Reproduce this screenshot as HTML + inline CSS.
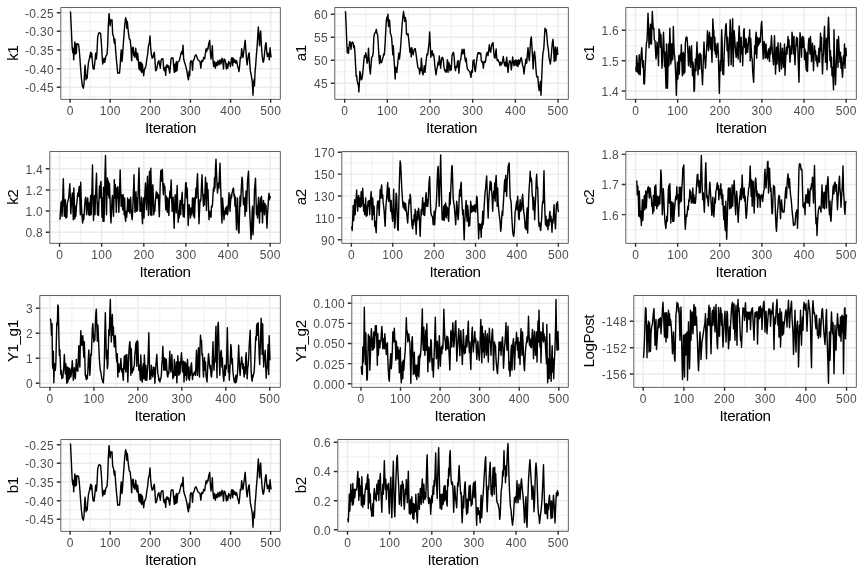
<!DOCTYPE html>
<html lang="en"><head><meta charset="utf-8"><title>Trace plots</title>
<style>html,body{margin:0;padding:0;background:#fff}body{width:864px;height:576px;overflow:hidden}svg{display:block}</style>
</head><body>
<svg width="864" height="576" viewBox="0 0 864 576" font-family="&quot;Liberation Sans&quot;, Arial, Helvetica, sans-serif">
<rect width="864" height="576" fill="#fff"/>
<g>
<clipPath id="c0"><rect x="60.45" y="7.33" width="220.22" height="91.77"/></clipPath>
<g clip-path="url(#c0)">
<path d="M60.45 22H280.67M60.45 40.63H280.67M60.45 59.33H280.67M60.45 78.03H280.67M60.45 96.63H280.67M90.12 7.33V99.1M130.24 7.33V99.1M170.36 7.33V99.1M210.48 7.33V99.1M250.6 7.33V99.1" stroke="#ebebeb" stroke-width="0.71" fill="none"/>
<path d="M60.45 12.67H280.67M60.45 31.3H280.67M60.45 50H280.67M60.45 68.7H280.67M60.45 87.3H280.67M70.06 7.33V99.1M110.18 7.33V99.1M150.3 7.33V99.1M190.42 7.33V99.1M230.54 7.33V99.1M270.66 7.33V99.1" stroke="#ebebeb" stroke-width="1.42" fill="none"/>
<path d="M70.5,11.5 71.33,29 72.17,47.67 72.83,52.67 73.33,48.17 73.67,59.83 74.17,52.33 74.83,42 75.33,54 75.83,44 76.33,53.17 76.83,43.67 77.67,44 78.5,44.33 79.17,49 79.83,57.33 80.67,69 81.5,79 82.33,85.67 83.33,88.17 84,84 84.5,74 85,65.33 85.5,70.67 86,79.83 86.67,75.67 87.17,78.17 87.67,70.67 88.5,62.33 89.33,59 90,55.67 90.67,52.33 91.17,57.33 91.67,53.17 92.33,60.67 93,68.17 94,69.33 94.67,64 95.33,57.33 95.67,53.17 96.33,59 97,52.33 97.67,37.33 98.67,33.17 99.67,32.67 100.67,34 101.33,42.33 102,54 102.67,64 103.5,61.5 104,58.17 104.67,62.33 105.33,59 106,55.67 107,54.83 107.67,45.67 108.33,25.67 109,13.67 109.67,20.67 110.17,25.67 110.67,19.83 111.33,20.67 112,19.83 112.67,34 113.5,36.5 114.33,43.17 114.83,39 115.67,50.67 116.33,59 117,65.67 117.67,73.17 118.67,72.67 119.5,73.17 120.17,65.67 120.83,54 121.33,49.83 122,61.5 122.67,54 123.33,44 124,34.83 124.67,25.67 125.67,17.67 126.33,20.67 126.83,28.17 127.33,21.5 128,29 128.67,34.83 129.33,39 130.17,39.83 131,47.33 131.67,60.67 132.33,48.17 133.17,47.33 133.83,55.67 134.33,52.33 135,57.33 135.67,48.17 136.33,54 137,59.83 137.67,53.17 138.33,60.67 139,69 139.67,62.33 140.33,70.67 141,62.33 141.67,72.33 142.33,64 143,69.83 143.67,75.67 144.33,69.83 145.17,68.17 146,65.67 146.83,59 147.67,54 148.5,45.67 149.33,43.17 150,36 150.67,47.33 151.33,54 152.17,58.17 153,57.33 153.67,54 154.33,52.33 155,60.67 155.67,70.67 156.5,69.83 157.33,65.67 158,62.33 158.83,60.67 159.67,64.83 160.33,68.17 161,60.67 162,58.67 163,59 163.67,69 164.33,70.67 165,67.33 165.67,75.33 166.33,65.67 167,64.83 167.67,67.33 168.33,65.67 169,69 169.67,73.17 170.33,67.33 171,59 172,57.67 173,58.17 173.67,65.67 174.33,72.33 175,64 175.67,71.5 176.33,61.5 177,70.67 177.67,62.33 178.5,61.5 179.33,60.67 180.17,57.33 181,53.17 181.67,51.5 182.33,54 183,45.33 183.67,59 184.33,61.5 185.17,64 186,67.33 186.83,70.67 187.67,76.5 188.5,79.83 189,71.5 189.67,75.67 190.33,62.33 191,60.67 191.83,61.5 192.5,70.33 193.17,60.67 194,59.83 195,55.67 196,54.83 197,57.33 198,59.83 199,60.67 200,61.5 200.83,68.17 201.67,60.67 202.67,61.5 203.67,57.33 204.67,59 205.33,54 206,49 206.67,51.5 207.33,48.17 208,49 208.67,44 209.67,40.33 210.33,52.33 211,59 211.67,54 212.33,45.67 213,60.67 213.67,66.5 214.5,61.5 215.33,68.17 216.33,62.33 217.17,65.67 218,60.67 219,64.83 220,59.83 221,64 222,58.17 222.83,61.5 223.5,69 224.17,59 225,59.83 225.67,62.33 226.33,69 227,64 227.83,68.17 228.67,61.5 229.67,63.17 230.5,66.5 231.33,59 232,57.67 232.67,65.67 233.33,58.17 234.33,62.33 235,59.83 235.83,63.17 236.67,60.67 237.5,65.67 238.33,68.17 239,71.5 239.67,65.67 240.33,57.33 241,58.17 241.67,48.67 242.33,54 243,57.33 243.67,52.33 244.33,47.33 245.17,40.33 245.83,49 246.5,59 247.17,64.83 247.83,59 248.5,54.83 249.17,52.83 249.67,62.33 250.33,70.67 251,74 251.67,77.33 252.33,82.33 253,95.33 253.5,84 254,79.83 254.5,85.67 255,72.33 255.67,65.67 256.33,55.67 257,48.17 257.67,37.33 258.33,27 259,37.33 259.5,45.67 260,35.67 260.67,31 261.33,44 262,54 262.67,59.83 263.33,62.33 264,59 264.67,52.33 265.33,45.67 266,42.67 266.67,50.67 267.33,56.5 268,53.17 268.67,54 269.33,59.83 270,47.67 270.67,54 271.17,57.33" stroke="#000" stroke-width="1.42" fill="none" stroke-linejoin="round" stroke-linecap="butt"/>
</g>
<rect x="60.8" y="7.53" width="219.57" height="91.82" fill="none" stroke="#444" stroke-width="0.85" stroke-linejoin="round"/>
<path d="M56.78 12.67H60.45M56.78 31.3H60.45M56.78 50H60.45M56.78 68.7H60.45M56.78 87.3H60.45M70.06 99.1V102.77M110.18 99.1V102.77M150.3 99.1V102.77M190.42 99.1V102.77M230.54 99.1V102.77M270.66 99.1V102.77" stroke="#333" stroke-width="1.42" fill="none"/>
<g font-size="12" letter-spacing="0.33" fill="#4d4d4d">
<text x="54.05" y="17.57" text-anchor="end">-0.25</text>
<text x="54.05" y="36.2" text-anchor="end">-0.30</text>
<text x="54.05" y="54.9" text-anchor="end">-0.35</text>
<text x="54.05" y="73.6" text-anchor="end">-0.40</text>
<text x="54.05" y="92.2" text-anchor="end">-0.45</text>
<text x="70.16" y="114.8" text-anchor="middle">0</text>
<text x="110.28" y="114.8" text-anchor="middle">100</text>
<text x="150.4" y="114.8" text-anchor="middle">200</text>
<text x="190.52" y="114.8" text-anchor="middle">300</text>
<text x="230.64" y="114.8" text-anchor="middle">400</text>
<text x="270.76" y="114.8" text-anchor="middle">500</text>
</g>
<g font-size="15.2" letter-spacing="-0.44" fill="#000">
<text x="170.56" y="132.6" text-anchor="middle">Iteration</text>
<text transform="translate(17.9 53.21) rotate(-90)" text-anchor="middle">k1</text>
</g>
</g>
<g>
<clipPath id="c1"><rect x="334.45" y="7.33" width="234.22" height="91.77"/></clipPath>
<g clip-path="url(#c1)">
<path d="M334.45 25.8H568.67M334.45 48.8H568.67M334.45 71.8H568.67M334.45 94.8H568.67M366.01 7.33V99.1M408.68 7.33V99.1M451.35 7.33V99.1M494.02 7.33V99.1M536.69 7.33V99.1" stroke="#ebebeb" stroke-width="0.71" fill="none"/>
<path d="M334.45 14.3H568.67M334.45 37.3H568.67M334.45 60.3H568.67M334.45 83.3H568.67M344.67 7.33V99.1M387.34 7.33V99.1M430.01 7.33V99.1M472.68 7.33V99.1M515.35 7.33V99.1M558.02 7.33V99.1" stroke="#ebebeb" stroke-width="1.42" fill="none"/>
<path d="M345.5,11.17 346.17,25.67 346.83,44 347.33,52.67 348,47.67 348.5,53.17 349.17,45.67 349.83,41.5 350.5,44 351,49.33 351.67,43.17 352.5,42 353.17,43.17 353.67,47.67 354.33,45.67 355,54 355.67,67.33 356.17,76.5 356.67,75.67 357.17,80.67 357.83,84 358.33,83.67 358.83,92 359.33,84 359.83,71.5 360.5,73.17 361.17,79.83 361.83,79 362.5,75.67 363.17,69 363.83,60.67 364.5,55.67 365.17,57.33 365.83,52.83 366.5,57.33 367.17,63.17 367.83,60.67 368.5,48.17 369,57.33 369.67,69 370.33,74 371,65.67 371.67,57.33 372.5,56.5 373.17,53.17 373.83,37.33 374.67,33.17 375.5,32.33 376.33,29.33 377,33.67 377.67,34.83 378.33,45.67 379,57.33 379.5,63.67 380.17,55.67 380.83,62.33 381.5,62.67 382.17,60.67 383,57.33 383.67,54 384.33,54.83 385,45.67 385.67,32.33 386.33,20.67 387,17 387.5,20.67 388,14.33 388.5,26.5 389,19.83 389.67,20.67 390.33,33.17 391,34.83 391.67,38.17 392.33,47.33 392.83,54.83 393.33,45.67 394,59 394.67,69 395.17,79 395.67,67.33 396.33,70.67 396.83,72.33 397.5,65.67 398.17,59 398.83,53.17 399.5,59 400.17,52.33 400.83,44 401.5,34 402.17,24 402.83,17.33 403.5,11.5 404.17,15.67 404.67,21.5 405.33,17.33 406,20.67 406.5,34 407.17,34.83 408,33.67 408.67,39 409.33,45.67 410,52.33 410.67,48.17 411.17,57 411.83,47.67 412.5,52.33 413.17,54.83 413.83,50.67 414.5,49 415.17,48.67 415.83,52.33 416.5,57.33 417.17,62.33 417.83,67.33 418.5,68.17 419.17,69 419.67,74 420.17,68.17 420.83,70.67 421.33,58.17 421.83,64 422.33,72.33 423,74.83 423.67,70.67 424.33,65.67 425,72.33 425.67,65.67 426.33,59 427,54 427.67,54.83 428.33,49 429,44 429.67,32 430.33,45.67 430.83,57.33 431.5,52.33 432.17,50.67 432.83,55.67 433.5,54 434.17,57.33 434.83,65.67 435.5,70.67 436,74.83 436.67,69.83 437.33,67.33 438,62.33 438.67,64.83 439.33,56 440,62.33 440.67,68.17 441.33,60.67 442,57.67 442.67,57.33 443.33,60.67 444,67.33 444.67,70.67 445.33,69.83 446,72.33 446.67,70.67 447.33,59.83 448,72.33 448.67,62.33 449.33,64 450,70.67 450.67,65.67 451.33,69.83 452,55.67 452.83,53.17 453.5,52.33 454.17,57.33 454.83,67.33 455.5,70.67 456.17,66.5 456.83,67.33 457.5,61.5 458.17,60.67 458.83,73.17 459.5,65.67 460.17,60.67 460.83,59 461.5,53.17 462.17,49.33 462.83,54 463.5,49.83 464.17,49.33 464.83,57.33 465.5,61.5 466.17,58.17 466.83,65.67 467.5,69 468.17,69.83 468.83,70.67 469.67,71.5 470.33,74 471,77.33 471.67,70.67 472.33,72.33 473,60.67 474,59.83 474,61.5 474.67,69 475.33,71.5 476,65.67 476.67,60.67 477.33,55.67 478,52.67 478.67,53.67 479.33,52.67 480,54 480.67,53.17 481.33,60.67 482,62.33 482.67,61.5 483.33,68.17 484,62.33 484.67,61.5 485.33,62.33 486,57.33 486.67,53.17 487.33,52.33 488,55.67 488.67,50.67 489.33,44.83 490,50.67 490.67,52.33 491.33,47.33 492,44 493,42.67 493.67,50.67 494.33,57.33 495,58.17 495.67,52.33 496.17,49 496.67,57.33 497.33,60.67 498,59.83 498.67,61.5 499.33,62.33 500,65.67 500.67,62.33 501.33,64.83 502,63.17 502.67,60.67 503.33,56.5 504,62.33 504.67,65.67 505.33,62.33 506,66.5 506.67,57.33 507.33,64 508,72.33 508.67,65.67 509.33,61.5 510,60.67 510.67,62.33 511.33,69.83 512,64 512.67,57 513.33,62.33 514,65.67 514.67,60.67 515.33,64.83 516,59.83 516.67,65.67 517.33,60.67 518,66.5 518.67,59.83 519.33,64 520,61.5 520.67,59 521.33,57.67 522,61.5 522.67,65.67 523.33,67.33 524,74 524.67,67.33 525.33,64 526,59 526.67,63.17 527.33,55.67 528,47.67 528.67,55.67 529.33,60.67 530,50.67 530.67,39.83 531.33,37 532,47.33 532.67,59 533.17,69 533.83,55.67 534.5,51.5 535.17,57.33 535.83,67.33 536.5,75.67 537.17,77.33 537.83,76.5 538.5,85.67 539.17,90.67 539.83,87.33 540.33,81.5 541,95.33 541.5,82.33 542,70.67 542.5,59 543,52.33 543.5,50.67 544,45.67 544.5,35.67 545,28.17 545.67,31.5 546.33,29.83 547,37.33 547.67,45.67 548.33,49 549,57.33 549.67,60.67 550.33,64 551,59 551.67,50.67 552.33,42.67 553,39.33 553.67,49 554.17,61.5 554.67,52.33 555.33,47 555.83,60.67 556.5,52.33 557.17,47.33 557.67,54 558.17,54.83" stroke="#000" stroke-width="1.42" fill="none" stroke-linejoin="round" stroke-linecap="butt"/>
</g>
<rect x="334.8" y="7.53" width="233.57" height="91.82" fill="none" stroke="#444" stroke-width="0.85" stroke-linejoin="round"/>
<path d="M330.78 14.3H334.45M330.78 37.3H334.45M330.78 60.3H334.45M330.78 83.3H334.45M344.67 99.1V102.77M387.34 99.1V102.77M430.01 99.1V102.77M472.68 99.1V102.77M515.35 99.1V102.77M558.02 99.1V102.77" stroke="#333" stroke-width="1.42" fill="none"/>
<g font-size="12" letter-spacing="0.33" fill="#4d4d4d">
<text x="328.05" y="19.2" text-anchor="end">60</text>
<text x="328.05" y="42.2" text-anchor="end">55</text>
<text x="328.05" y="65.2" text-anchor="end">50</text>
<text x="328.05" y="88.2" text-anchor="end">45</text>
<text x="344.77" y="114.8" text-anchor="middle">0</text>
<text x="387.44" y="114.8" text-anchor="middle">100</text>
<text x="430.11" y="114.8" text-anchor="middle">200</text>
<text x="472.78" y="114.8" text-anchor="middle">300</text>
<text x="515.45" y="114.8" text-anchor="middle">400</text>
<text x="558.12" y="114.8" text-anchor="middle">500</text>
</g>
<g font-size="15.2" letter-spacing="-0.44" fill="#000">
<text x="451.56" y="132.6" text-anchor="middle">Iteration</text>
<text transform="translate(305.9 53.21) rotate(-90)" text-anchor="middle">a1</text>
</g>
</g>
<g>
<clipPath id="c2"><rect x="625.45" y="7.33" width="231.22" height="91.77"/></clipPath>
<g clip-path="url(#c2)">
<path d="M625.45 15.12H856.67M625.45 45.48H856.67M625.45 75.88H856.67M656.6 7.33V99.1M698.73 7.33V99.1M740.85 7.33V99.1M782.97 7.33V99.1M825.1 7.33V99.1" stroke="#ebebeb" stroke-width="0.71" fill="none"/>
<path d="M625.45 30.3H856.67M625.45 60.7H856.67M625.45 91H856.67M635.54 7.33V99.1M677.66 7.33V99.1M719.79 7.33V99.1M761.91 7.33V99.1M804.04 7.33V99.1M846.16 7.33V99.1" stroke="#ebebeb" stroke-width="1.42" fill="none"/>
<path d="M635.67,67.33 636.17,71.5 636.67,55.67 637.17,62.33 637.67,72.33 638.17,64 638.67,74 639.17,54.83 639.67,70.67 640.17,74.83 640.67,60.67 641.17,54 641.83,47.67 642.33,60.67 642.83,67.33 643.33,60.67 643.83,83.67 644.5,84 645,70.67 645.5,60.67 646,50.67 646.5,42.33 647,41.5 647.5,29 648,13.17 648.5,24 649,47.67 649.5,29 650,44 650.5,24.33 651,29 651.5,44 652,20.67 652.33,11.5 652.83,22.33 653.33,29 653.83,28.17 654.33,39.83 655,40.67 655.5,50.67 656,59 656.5,54 657,42 657.5,47.33 658,54 658.5,65.67 659,29 659.5,30.67 660,34 660.5,47.33 661,34.83 661.5,54 662,68.17 662.5,59 663,44 663.5,32.33 664,45.67 664.5,66.5 665,52.33 665.5,70.67 666,88.17 666.5,44 667,67.33 667.5,88.17 668,65.67 668.5,44 669,65.67 669.5,44 669.83,28.17 670.33,44 670.83,64 671.33,44 671.83,60.67 672.33,44 672.83,59 673.33,26.5 673.83,44 674.33,54 674.83,57.33 675.33,67.33 675.83,77.33 676.33,95.33 676.83,77.33 677.33,62.33 677.83,79 678.33,70.67 678.83,55.67 679.33,74 679.83,59 680.33,54 680.83,60.67 681.33,44.83 681.83,60.67 682.33,75.67 682.83,54 683.33,52.33 683.83,74 684.33,54 684.83,72.33 685.33,44 685.83,38.17 686.33,37 687,37.33 687.5,44 688,54 688.5,65.67 689,54 689.5,46.5 690,59 690.5,67.33 691,54 691.5,45.67 692,59 692.5,75.67 693,62.33 693.5,69 694,91.5 694.5,89.83 695,67.33 695.5,59 696,70.67 696.5,54 697,42 697.5,59 698,74.83 698.5,60.67 699,54 699.5,69 700,53.17 700.5,60.67 701,54.83 701.5,69 702,74 702.5,84.83 703,70.67 703.5,54 704,42 704.5,54 705,60.67 705.5,68.17 706,59 706.5,50.67 707,42.33 707.5,30.67 708,42.33 708.5,50.67 709,37.33 709.5,32.33 710,42.33 710.5,49 711,37.33 711.5,50.67 712,62.33 712.5,37.33 712.83,19 713.33,29 713.83,30.67 714.33,50.67 714.83,37.33 715.33,54 715.83,44 716.33,57.33 716.83,52.33 717.33,47.33 717.83,43.17 718.33,54 718.83,74 719.33,93.17 719.83,70.67 720.33,60.67 720.83,70.67 721.33,42.33 721.67,29.83 722.17,42.33 722.67,74 723.17,60.67 723.67,74.83 724.17,54 724.67,42.33 725.17,34 725.67,25.67 726.17,23.67 726.67,37.33 727.17,50.67 727.67,37.33 728.17,54 728.67,65.67 729.17,50.67 729.67,37.33 730.17,19.83 730.67,37.33 731.17,64.83 731.67,45.67 732.17,29 732.67,18.67 733.17,66.5 733.67,47.33 734.17,30.67 734.67,37.33 735.17,45.67 735.67,52.33 736.17,57.33 736.67,50.67 737.17,42.33 737.67,54 738.17,59 738.67,37.33 739.17,26 739.67,37.33 740.17,62.33 740.67,45.67 741.17,37.33 741.67,54 742.17,47.33 742.67,65.67 743.17,47.33 743.67,30.67 744.17,28.67 744.67,47.33 745.17,38.17 745.67,54 746.17,39 746.67,52.33 747.17,44 747.67,52.33 748.17,45.67 748.67,37.33 749.17,42.33 749.67,29.83 750.17,60.67 750.67,38.17 751.17,47.33 751.67,57.33 752.17,59 752.67,70.67 753.17,77.33 753.67,82.33 754.17,62.33 754.67,45.67 755.17,54 755.67,37.33 756.17,32.33 756.67,58.17 757.17,47.33 757.67,37.33 758.17,45.67 758.67,39 759.17,44 759.67,38.17 760.17,42.33 760.67,34 761.17,25.67 761.67,21.5 762.17,30.67 762.67,45.67 763.17,59 763.67,47.33 764.17,41.5 764.67,45.67 765.17,58.17 766,44 766.5,57.33 767,52.33 767.5,59 768,54 768.5,49 769,55.67 769.5,61.5 770,47.33 770.5,54 771,44 771.5,35.67 772,45.67 772.5,54 773,59 773.5,64.83 774,50.67 774.5,35.67 775,54 775.5,74 776,60.67 776.5,47.33 777,64 777.5,54 778,42.67 778.5,54 779,65.67 779.5,71.5 780,54 780.5,43.17 781,54 781.5,69 782,59 782.5,48.17 783,59 783.5,67.33 784,55.67 784.5,44 785,75.33 785.5,62.33 786,54 786.5,47.33 787,54 787.5,45.67 788,36.5 788.5,47.33 789,39.83 789.5,54 790,62.33 790.5,54 791,45.67 791.5,54 792,32.33 792.5,37.33 793,45.67 793.5,54 794,36.5 794.5,54 795,64.83 795.5,52.33 796,44 796.5,37.33 797,45.67 797.5,38.17 798,54 798.5,70.67 799,82.33 799.5,54 800,32.67 800.5,37.33 801,45.67 801.5,57.33 802,39 802.5,36.5 803,47.33 803.5,37.33 804,42.33 804.5,59.83 805,49 805.5,54 806,67.33 806.5,70.67 807,52.33 807.5,71.5 808,54 808.5,42.33 809,38.17 809.5,47.33 810,54 810.5,36.5 811,47.33 811.5,61.5 812,52.33 812.5,43.17 813,55.67 813.5,70.67 814,57.33 814.5,45.67 815,54 815.5,50.67 816,60.67 816.5,55.67 817,63.17 817.5,66.5 818,60.67 818.5,54 819,48.17 819.5,62.33 820,47.33 820.5,33.17 821,50.67 821.5,37.33 822,59 822.5,74 823,59 823.5,52.33 824,37.33 824.5,26.5 825,45.67 825.5,62.33 826,45.67 826.5,38.17 827,69.83 827.5,54 828,29 828.5,17.33 829,29 829.5,45.67 830,60.67 830.5,50.67 831,67.33 831.5,57.33 832,75.67 832.5,67.33 833,77.33 833.5,89.83 834,29.83 834.5,54 835,74 835.5,84.83 836,70.67 836.5,57.33 837,39.83 837.5,54 838,67.33 838.5,36.5 839,47.33 839.5,54 840,62.33 840.5,52.33 841,68.17 841.5,57.33 842,70.67 842.5,77.33 843,67.33 843.5,55.67 844,64 844.5,44 845,68.17 845.5,54 846,48.17 846.33,56.5" stroke="#000" stroke-width="1.42" fill="none" stroke-linejoin="round" stroke-linecap="butt"/>
</g>
<rect x="625.8" y="7.53" width="230.57" height="91.82" fill="none" stroke="#444" stroke-width="0.85" stroke-linejoin="round"/>
<path d="M621.78 30.3H625.45M621.78 60.7H625.45M621.78 91H625.45M635.54 99.1V102.77M677.66 99.1V102.77M719.79 99.1V102.77M761.91 99.1V102.77M804.04 99.1V102.77M846.16 99.1V102.77" stroke="#333" stroke-width="1.42" fill="none"/>
<g font-size="12" letter-spacing="0.33" fill="#4d4d4d">
<text x="619.05" y="35.2" text-anchor="end">1.6</text>
<text x="619.05" y="65.6" text-anchor="end">1.5</text>
<text x="619.05" y="95.9" text-anchor="end">1.4</text>
<text x="635.64" y="114.8" text-anchor="middle">0</text>
<text x="677.76" y="114.8" text-anchor="middle">100</text>
<text x="719.89" y="114.8" text-anchor="middle">200</text>
<text x="762.01" y="114.8" text-anchor="middle">300</text>
<text x="804.14" y="114.8" text-anchor="middle">400</text>
<text x="846.26" y="114.8" text-anchor="middle">500</text>
</g>
<g font-size="15.2" letter-spacing="-0.44" fill="#000">
<text x="741.06" y="132.6" text-anchor="middle">Iteration</text>
<text transform="translate(593.9 53.21) rotate(-90)" text-anchor="middle">c1</text>
</g>
</g>
<g>
<clipPath id="c3"><rect x="49.45" y="151.33" width="231.22" height="91.77"/></clipPath>
<g clip-path="url(#c3)">
<path d="M49.45 158.1H280.67M49.45 179.3H280.67M49.45 200.6H280.67M49.45 221.6H280.67M49.45 242.9H280.67M80.6 151.33V243.1M122.73 151.33V243.1M164.85 151.33V243.1M206.97 151.33V243.1M249.1 151.33V243.1" stroke="#ebebeb" stroke-width="0.71" fill="none"/>
<path d="M49.45 168.7H280.67M49.45 190H280.67M49.45 211H280.67M49.45 232.3H280.67M59.54 151.33V243.1M101.66 151.33V243.1M143.79 151.33V243.1M185.91 151.33V243.1M228.04 151.33V243.1M270.16 151.33V243.1" stroke="#ebebeb" stroke-width="1.42" fill="none"/>
<path d="M60,219.67 60.5,211.33 61,203 61.5,201.33 62,216.33 62.5,206.33 63,189.67 63.33,178.83 63.83,198 64.33,216.33 64.83,203 65.33,199.67 65.83,218 66.33,206.33 66.83,217.17 67.33,203 67.83,201.33 68.33,199.67 68.83,196.33 69.33,189.67 69.83,183.83 70.33,198 70.83,213.83 71.33,204.67 71.83,198 72.33,193 72.83,206.33 73.33,219.67 73.83,188 74.33,201.33 74.83,218.83 75.33,206.33 75.83,216.33 76.33,208 76.83,203 77.33,198 77.83,193 78.33,196.33 78.83,189.67 79.33,186.33 79.83,198 80.33,214.67 80.67,182.17 81.17,198 81.67,211.33 82.17,218 82.67,223 83.17,214.67 83.67,219.67 84.17,214.67 84.67,206.33 85.17,199.67 85.67,197.17 86.17,203 86.67,214.67 87.17,203 87.67,198 88.17,206.33 88.67,214.67 89.17,203 89.67,215.5 90.17,203 90.67,195.5 91.17,214.67 91.67,198 92.17,181.33 92.5,165 93,198 93.5,220.5 94,206.33 94.5,195.5 95,214.67 95.5,198 96,184.67 96.5,173.33 97,198 97.5,214.67 98,203 98.5,215.5 99,198 99.5,186.33 100,198 100.5,183.83 101,181.33 101.5,198 102,217.17 102.5,198 103,221.33 103.5,187.17 104,221.33 104.5,206.33 105,173 105.5,155.5 106,181.33 106.5,214.67 107,189.67 107.5,178 108,194.67 108.5,181.33 109,198 109.5,183.83 110,198 110.5,214.67 111,223 111.5,211.33 112,199.67 112.5,195.5 113,206.33 113.5,216.33 114,198 114.33,179.67 114.83,198 115.33,184.67 115.83,198 116.33,212.17 116.83,188 117.33,198 117.83,186.67 118.33,199.67 118.83,212.17 119.33,198 119.83,181.33 120.17,170 120.67,189.67 121.17,206.33 121.67,194.67 122.17,203 122.67,209.67 123.17,194.67 123.67,203 124.17,214.67 124.67,198 125.17,218 125.67,221.33 126.17,211.33 126.67,217.17 127.17,211.33 127.67,198 128.17,206.33 128.67,211.33 129.17,199.67 129.67,213 130.17,203 130.67,197.17 131.17,211.33 131.67,216.33 132.17,219.67 132.67,211.33 133.17,198 133.67,186.33 134,174.67 134.5,198 135,212.17 135.5,198 136,191.67 136.5,211.33 137,198 137.5,210.5 138,198 138.5,181.33 139,168 139.5,189.67 140,211.33 140.5,203 141,211.33 141.5,197.17 142,214.67 142.5,223.83 143,206.33 143.5,198 144,218 144.5,203 145,191.33 145.5,183 146,198 146.5,209.67 147,189.67 147.5,176.33 148,198 148.5,215.5 149,189.67 149.5,171.33 150,198 150.5,214.67 150.83,168.33 151.33,189.67 151.83,215.5 152.33,198 152.83,184.67 153.33,198 153.83,214.67 154.33,206.33 154.83,211.33 155.33,201.33 155.83,196.33 156.33,191.67 156.83,198 157.33,193 157.83,198 158.33,194.67 158.83,206.33 159.33,216.67 159.83,198 160.33,181.33 160.83,170.5 161.33,181.33 161.83,171.33 162.33,169.33 162.83,184.67 163.33,194.67 163.83,183.83 164.33,188 164.83,186.33 165.33,198 165.83,209.67 166.33,196.33 166.83,206.33 167.33,212.17 167.83,198 168.33,206.33 168.83,215.5 169.33,203 169.83,191.33 170.33,198 170.83,188 171.17,180 171.67,198 172.17,211.33 172.67,203 173.17,197.17 173.67,214.67 174.17,228.33 174.67,206.33 175.17,194.67 175.67,199.67 176.17,213 176.67,198 177.17,185.5 177.67,206.33 178.17,222.17 178.67,211.33 179.17,218 179.67,206.33 180.17,200.5 180.67,214.67 181.17,203 181.67,198 182.17,192.17 182.67,206.33 183.17,216.33 183.67,204.67 184.17,217.17 184.67,206.33 185.17,194.67 185.67,183 186.17,182.67 186.67,198 187.17,188 187.67,206.33 188.17,225.5 188.67,214.67 189.17,204.67 190,211.33 190.5,218 191,208 191.5,214.67 192,211.33 192.5,198 193,206.33 193.5,216.33 194,198 194.5,218 195,204.67 195.5,196.33 196,188 196.5,198 197,181.33 197.5,173.83 198,189.67 198.5,206.33 199,223.83 199.5,211.33 200,199.67 200.5,201.33 201,198 201.5,184.67 202,174.67 202.5,189.67 203,198 203.5,206.33 204,194.67 204.5,204.67 205,191.33 205.5,177.17 206,189.67 206.5,210.5 207,183 207.5,198 208,189.67 208.5,206.33 209,219.67 209.5,211.33 210,216.33 210.5,212.17 211,217.17 211.5,206.33 212,207.17 212.5,204.67 213,194.67 213.5,188 214,191.33 214.5,178 215,188 215.5,168 216,159.33 216.5,173 217,183.83 217.5,193 218,186.33 218.5,183 219,188 219.5,173 220,163.33 220.5,181.33 221,198 221.5,214.67 222,223 222.5,198 223,204.67 223.5,211.33 224,219.67 224.5,211.33 225,214.67 225.5,208 226,213.83 226.5,209.67 227,206.33 227.5,214.67 228,211.33 228.5,201.33 229,192.67 229.5,201.33 230,211.33 230.5,203 231,194.67 231.5,198 232,193 232.5,191.33 233,188.83 233.5,188 234,196.33 234.5,194.67 235,206.33 235.5,197.17 236,214.67 236.5,229.67 237,214.67 237.5,198 238,216.33 238.5,231.33 239,233 239.5,214.67 240,196.33 240.5,206.33 241,194.67 241.5,184.67 242,177.17 242.5,181.33 243,194.67 243.5,204.67 244,201.33 244.5,198 245,216.33 245.5,206.33 246,191.33 246.5,211.33 247,198 247.5,181.33 248,176.33 248.5,171.33 249,189.67 249.5,206.33 250,218 250.5,228 251,239.33 251.5,231.33 252,214.67 252.5,206.33 253,234.67 253.5,223 254,211.33 254.5,189.67 255,184.67 255.5,178.33 256,198 256.5,214.67 257,206.33 257.5,218 258,206.33 258.5,197.17 259,211.33 259.5,223 260,206.33 260.5,198 261,211.33 261.5,196.33 262,208 262.5,223 263,209.67 263.5,200.5 264,206.33 264.5,214.67 265,203.83 265.5,211.33 266,205.5 266.5,218 267,228 267.5,214.67 268,208 268.5,198 269,193.33 269.5,199.67 270,196.33 270.33,198" stroke="#000" stroke-width="1.42" fill="none" stroke-linejoin="round" stroke-linecap="butt"/>
</g>
<rect x="49.8" y="151.53" width="230.57" height="91.82" fill="none" stroke="#444" stroke-width="0.85" stroke-linejoin="round"/>
<path d="M45.78 168.7H49.45M45.78 190H49.45M45.78 211H49.45M45.78 232.3H49.45M59.54 243.1V246.77M101.66 243.1V246.77M143.79 243.1V246.77M185.91 243.1V246.77M228.04 243.1V246.77M270.16 243.1V246.77" stroke="#333" stroke-width="1.42" fill="none"/>
<g font-size="12" letter-spacing="0.33" fill="#4d4d4d">
<text x="43.05" y="173.6" text-anchor="end">1.4</text>
<text x="43.05" y="194.9" text-anchor="end">1.2</text>
<text x="43.05" y="215.9" text-anchor="end">1.0</text>
<text x="43.05" y="237.2" text-anchor="end">0.8</text>
<text x="59.64" y="258.8" text-anchor="middle">0</text>
<text x="101.76" y="258.8" text-anchor="middle">100</text>
<text x="143.89" y="258.8" text-anchor="middle">200</text>
<text x="186.01" y="258.8" text-anchor="middle">300</text>
<text x="228.14" y="258.8" text-anchor="middle">400</text>
<text x="270.26" y="258.8" text-anchor="middle">500</text>
</g>
<g font-size="15.2" letter-spacing="-0.44" fill="#000">
<text x="165.06" y="276.6" text-anchor="middle">Iteration</text>
<text transform="translate(17.9 197.22) rotate(-90)" text-anchor="middle">k2</text>
</g>
</g>
<g>
<clipPath id="c4"><rect x="341.45" y="151.33" width="227.22" height="91.77"/></clipPath>
<g clip-path="url(#c4)">
<path d="M341.45 163.12H568.67M341.45 185.05H568.67M341.45 206.95H568.67M341.45 228.85H568.67M372.06 151.33V243.1M413.46 151.33V243.1M454.85 151.33V243.1M496.25 151.33V243.1M537.64 151.33V243.1" stroke="#ebebeb" stroke-width="0.71" fill="none"/>
<path d="M341.45 152.17H568.67M341.45 174.1H568.67M341.45 196H568.67M341.45 217.9H568.67M341.45 239.8H568.67M351.36 151.33V243.1M392.76 151.33V243.1M434.16 151.33V243.1M475.55 151.33V243.1M516.95 151.33V243.1M558.34 151.33V243.1" stroke="#ebebeb" stroke-width="1.42" fill="none"/>
<path d="M351.67,226.33 352.17,230.5 352.67,219.67 353.17,205.5 353.67,220.5 354.17,211.33 354.67,199.67 355.17,214.67 355.67,203 356.17,198 356.67,190 357.17,203 357.67,211.33 358.17,198 358.67,195.5 359.17,206.33 359.67,198 360.17,207.17 360.67,203 361.17,191.67 361.67,206.33 362.17,198 362.67,188.33 363.17,198 363.67,211.33 364.17,204.67 364.67,214.67 365.17,206.33 365.67,198 366.17,216.33 366.67,206.33 367.17,215.5 367.67,206.33 368.17,201.33 368.67,206.33 369.17,200.5 369.67,214.67 370.17,204.67 370.67,198 371.17,191.67 371.67,206.33 372.17,219.67 372.67,198 373.17,206.33 373.67,214.67 374.17,206.33 374.67,226.33 375.17,221.33 375.67,228 376.17,232.67 376.67,218 377.17,206.33 377.67,201.33 378.17,208 378.67,201 379.17,215.5 379.67,203 380.17,189.67 380.67,198 381.17,188 381.67,185 382.17,198 382.67,194.67 383.17,203 383.67,206.33 384.17,211.33 384.67,219.67 385.17,226.33 385.67,211.33 386.17,203 386.67,198 387.17,189.67 387.67,182.5 388.17,198 388.67,201.33 389.17,188 389.67,198 390.17,201.33 390.67,211.33 391.17,200.5 391.67,211.33 392.17,216.33 392.67,221.33 393.17,206.33 393.67,189.33 394.17,214.67 394.67,228 395.17,223 395.67,206.33 396.17,193.33 396.67,196.33 397.17,214.67 397.67,229.67 398.17,230.5 398.67,211.33 399.17,189.67 399.67,173 400.17,161 400.67,164.67 401.17,174.67 401.67,186.33 402.17,194.67 402.67,203 403.17,207.17 403.67,202.17 404.17,208.83 404.67,203 405.17,210.5 405.67,203.83 406.17,209.67 406.67,213 407.17,218 407.67,223 408.17,214.67 408.67,206.33 409.17,199.67 409.67,203 410.17,194.33 410.67,198 411.17,211.33 411.67,221.33 412.17,226.33 412.67,228.83 413.17,219.67 413.67,224.67 414.17,214.67 414.67,221.33 415.17,209.33 415.67,223 416.17,234.33 416.67,221.33 417.17,211.33 417.67,219.67 418.17,211.33 418.67,208.33 419.17,214.67 419.67,226.33 420.17,236.33 420.67,221.33 421.17,209.67 421.67,214.67 422.17,206.33 422.67,197.67 423.17,206.33 423.67,214.67 424.17,203 424.67,215.5 425.17,206.33 425.67,198 426.17,192.67 426.67,206.33 427.17,199.67 427.67,206.33 428.17,201.33 428.67,189.67 429.17,181.33 429.67,176.67 430.17,194.67 430.67,209.67 431.17,214.67 431.67,215.5 432.17,216.33 432.67,218 433.17,224.67 433.67,218 434.17,211.33 434.67,224.67 435.17,214.67 435.67,209.67 436.17,206.33 436.67,196.33 437.17,181.33 437.67,169.67 438.17,166.33 438.67,189.67 439.17,206.33 439.67,188 440.17,173 440.67,155 441.17,181.33 441.67,203 442.17,219.67 442.67,214.67 443.17,219.67 443.67,206.33 444.17,220.5 444.67,204.67 445.17,216.33 445.67,203 446.17,218 446.67,206.33 447.17,214.67 447.67,208 448.17,218 448.67,221.33 449.17,206.33 449.67,192.67 450.17,204.67 450.67,191.33 451.17,181.33 451.67,168 452.17,165.5 452.67,181.33 453.17,198 453.67,203 454.17,204.67 454.67,211.33 455.17,216.33 455.67,224.67 456.17,214.67 456.67,201.33 457.17,206.33 457.67,214.67 458.17,219.67 458.67,213 459.17,198 459.67,189.67 460.17,196.33 460.67,186.33 461.17,182.17 461.67,198 462.17,206.33 462.67,214.67 463.17,209.67 463.67,226.33 464.17,239.67 464.67,223 465.17,214.67 465.67,206.33 466.17,200.5 466.67,214.67 467.17,221.33 467.67,205.5 468.17,211.33 468.67,226.33 469.17,218 469.67,225.5 470.17,214.67 470.67,201.33 471.17,206.33 471.67,212.17 472.17,206.33 472.67,211.33 473.17,206.33 473.67,210.5 474.17,205.5 474.67,211.33 475.17,204.67 475.67,212.17 476.17,206.33 476.67,196.33 477.17,198 477.67,211.33 478.17,224.67 478.67,238.83 478.67,238 479.17,226.33 479.67,223.83 480.17,229.67 480.67,224.67 481.17,237.17 481.67,223 482.17,228 482.67,211.33 483.17,224.67 483.67,218 484.17,206.33 484.67,198 485.17,191.33 485.67,188 486.17,181.33 486.67,176 487.17,191.33 487.67,206.33 488.17,218 488.67,203 489.17,194.67 489.67,188 490.17,181.33 490.67,189.67 491.17,182.17 491.67,191.33 492.17,198 492.67,211.33 493.17,198 493.67,191.33 494.17,198 494.67,183 495.17,201.33 495.67,181.33 496.17,175.5 496.67,189.67 497.17,206.33 497.67,188 498.17,203 498.67,209.67 499.17,214.67 499.67,218 500.17,223 500.67,231.33 501.17,228 501.67,218 502.17,211.33 502.67,215.5 503.17,206.33 503.67,198 504.17,188 504.67,179.67 505.17,191.33 505.67,175.5 506.17,189.67 506.67,196.33 507.17,181.33 507.67,173 508.17,166.33 508.67,164.67 509.17,163 509.67,181.33 510.17,198 510.67,199.67 511.17,203 511.67,214.67 512.17,223 512.67,231.33 513.17,234.67 513.67,236.33 514.17,233 514.67,223 515.17,211.33 515.67,209.67 516.17,204.67 516.67,201.33 517.17,209.67 517.67,196.33 518.17,206.33 518.67,218 519.17,219.67 519.67,206.33 520.17,199.67 520.67,211.33 521.17,203 521.67,209.67 522.17,198 522.67,194.33 523.17,203 523.67,211.33 524.17,214.67 524.67,219.67 525.17,228 525.67,223 526.17,229.67 526.67,214.67 527.17,208 527.67,233 528.17,214.67 528.67,198 529.17,188 529.67,181.33 530.17,171.33 530.67,181.33 531.17,178 531.67,181.33 532.17,194.67 532.67,198 533.17,209.67 533.67,197.17 534.17,204.67 534.67,219.67 535.17,206.33 535.67,198 536.17,181.33 536.67,174.17 537.17,188 537.67,187.17 538.17,203 538.67,221.33 539.17,226.33 539.67,223 540.17,228 540.67,230.5 541.17,224.67 541.67,218 542.17,206.33 542.67,201.33 543.17,203 543.67,181.33 544,170.83 544.5,198 545,214.67 545.5,224.67 546,216.33 546.5,226.33 547,219.67 547.5,221.33 548,229.67 548.5,219.67 549,225.5 549.5,214.67 550,211.33 550.5,221.33 551,216.33 551.5,224.67 552,232.17 552.5,219.67 553,223 553.5,214.67 554,204.67 554.5,214.67 555,223 555.5,228.83 556,214.67 556.5,203.83 557,206.33 557.5,201.67 558,209.67 558.5,212.17" stroke="#000" stroke-width="1.42" fill="none" stroke-linejoin="round" stroke-linecap="butt"/>
</g>
<rect x="341.8" y="151.53" width="226.57" height="91.82" fill="none" stroke="#444" stroke-width="0.85" stroke-linejoin="round"/>
<path d="M337.78 152.17H341.45M337.78 174.1H341.45M337.78 196H341.45M337.78 217.9H341.45M337.78 239.8H341.45M351.36 243.1V246.77M392.76 243.1V246.77M434.16 243.1V246.77M475.55 243.1V246.77M516.95 243.1V246.77M558.34 243.1V246.77" stroke="#333" stroke-width="1.42" fill="none"/>
<g font-size="12" letter-spacing="0.33" fill="#4d4d4d">
<text x="335.05" y="157.07" text-anchor="end">170</text>
<text x="335.05" y="179" text-anchor="end">150</text>
<text x="335.05" y="200.9" text-anchor="end">130</text>
<text x="335.05" y="222.8" text-anchor="end">110</text>
<text x="335.05" y="244.7" text-anchor="end">90</text>
<text x="351.46" y="258.8" text-anchor="middle">0</text>
<text x="392.86" y="258.8" text-anchor="middle">100</text>
<text x="434.26" y="258.8" text-anchor="middle">200</text>
<text x="475.65" y="258.8" text-anchor="middle">300</text>
<text x="517.05" y="258.8" text-anchor="middle">400</text>
<text x="558.44" y="258.8" text-anchor="middle">500</text>
</g>
<g font-size="15.2" letter-spacing="-0.44" fill="#000">
<text x="455.06" y="276.6" text-anchor="middle">Iteration</text>
<text transform="translate(305.9 197.22) rotate(-90)" text-anchor="middle">a2</text>
</g>
</g>
<g>
<clipPath id="c5"><rect x="625.45" y="151.33" width="231.22" height="91.77"/></clipPath>
<g clip-path="url(#c5)">
<path d="M625.45 169.45H856.67M625.45 199.55H856.67M625.45 229.65H856.67M656.6 151.33V243.1M698.73 151.33V243.1M740.85 151.33V243.1M782.97 151.33V243.1M825.1 151.33V243.1" stroke="#ebebeb" stroke-width="0.71" fill="none"/>
<path d="M625.45 154.4H856.67M625.45 184.5H856.67M625.45 214.6H856.67M635.54 151.33V243.1M677.66 151.33V243.1M719.79 151.33V243.1M761.91 151.33V243.1M804.04 151.33V243.1M846.16 151.33V243.1" stroke="#ebebeb" stroke-width="1.42" fill="none"/>
<path d="M636.33,180.5 636.83,181.33 637.33,194.67 637.83,186.33 638.33,198 638.83,216.33 639.33,191.33 639.83,206.33 640.33,218 640.83,211.33 641.33,225.5 641.83,214.67 642.33,199.67 642.83,220.5 643.33,209.67 643.83,201.33 644.33,195.5 644.83,209.67 645.33,198 645.83,191 646.33,208 646.83,198 647.33,191.33 647.83,188 648.33,186.67 648.83,193 649.33,198 649.83,187.67 650.33,189.67 650.83,196.33 651.33,198 651.83,206.33 652.33,204.67 652.83,213.83 653.33,195.5 653.83,211.33 654.33,198 654.83,186.33 655.33,205.5 655.83,185 656.33,198 656.83,208.83 657.33,196.33 657.83,206.33 658.33,197.17 658.83,204.67 659.33,196.33 659.83,203.83 660.33,189.67 660.83,170 661.33,176.33 661.83,194.67 662.33,214.67 662.83,201.33 663.33,188.83 663.83,198 664.33,211.33 664.83,219.67 665.33,224.67 665.83,228.5 666.33,223 666.83,216.33 667.33,221.33 667.83,206.33 668.33,189.67 668.83,185.5 669.33,203 669.83,183.83 670.33,198 670.83,223 671.33,203 671.83,201.67 672.33,214.67 672.83,221.33 673.33,203 673.83,221.33 674.33,211.33 674.83,206.33 675.33,199.67 675.83,196.33 676.33,199.67 676.83,186.67 677.33,198 677.83,194.67 678.33,203 678.83,216.33 679.33,187.17 679.83,203 680.33,193 680.83,187.17 681.33,201.33 681.83,188 682.33,181.33 682.83,168 683.33,167.17 683.83,165 684.33,198 684.83,218 685.33,229.33 685.83,221.33 686.33,214.67 686.83,216.33 687.33,211.33 687.83,206.33 688.33,209.67 688.83,199.67 689.33,201.33 689.83,189.67 690.33,198 690.83,191.67 691.33,203 691.83,196.33 692.33,202.17 692.83,188 693.33,203 693.83,194.67 694.33,203 694.83,198 695.33,203.33 695.83,198 696.33,189.67 696.83,181.33 697.33,174.67 697.83,174.33 698.33,186.33 698.83,180.5 699.33,193 699.83,181.33 700.33,192.17 700.83,173 701.33,155.5 701.83,173 702.33,191.33 702.83,199.67 703.33,193 703.83,203 704.33,212.17 704.83,198 705.33,173 705.83,162.67 706.33,181.33 706.83,198 707.33,195.5 707.83,199.67 708.33,206 708.83,198 709.33,189.67 709.83,182.17 710.33,189.67 710.83,198 711.33,206.33 711.83,215.5 712.33,206.33 712.83,197.17 713.33,211.33 713.83,216.67 714.33,209.67 714.83,198 715.33,203 715.83,191.67 716.33,189.67 716.83,186.33 717.33,182.67 717.83,189.67 718.33,185.5 718.83,199.67 719.33,189.67 719.83,194.67 720.33,188 720.83,183.83 721.33,198 721.83,189.67 722.33,204.67 722.83,194.67 723.33,211.33 723.83,219.67 724.33,206.33 724.83,224.67 725.33,230.5 725.83,201.33 726.33,228 726.67,239.33 727.17,223 727.67,206.33 728.17,189.67 728.67,188 729.17,198 729.67,208.83 730.17,188 730.67,203 731.17,208 731.67,198 732.17,185 732.67,206.33 733.17,194.67 733.67,188 734.17,180.5 734.67,191.33 735.17,206.33 735.67,214.67 736.17,198 736.67,191.33 737.17,198 737.67,211.33 738.17,222.17 738.67,211.33 739.17,204.67 739.67,198 740.17,194.67 740.67,188.83 741.17,199.67 741.67,189.67 742.17,175 742.67,189.67 743.17,198 743.67,194.67 744.17,188 744.67,201.33 745.17,196.33 745.67,211.33 746.17,218.33 746.67,214.67 747.17,206.33 747.67,198 748.17,194.67 748.67,188 749.17,187.17 749.67,179.67 750.17,166 750.67,181.33 751.17,196.33 751.67,179.67 752.17,206.33 752.67,184.67 753.17,181.33 753.67,198 754.17,213 754.67,198 755.17,181.33 755.67,178 756.17,184.67 756.67,196.33 757.17,191.33 757.67,207.17 758.17,194.67 758.67,193.83 759.17,198 759.67,194.67 760.17,207.17 760.67,196.33 761.17,198 761.67,194.67 762.17,198 762.67,201.33 763.17,196.33 763.67,191.33 764.17,189.67 764.67,173 765.17,169.33 765,169.33 765.5,181.33 766,188 766.5,181.33 767,173 767.5,162.17 768,161.33 768.5,193 769,173 769.5,168.33 770,181.33 770.5,191.33 771,188 771.5,203 772,213.83 772.5,213 773,198 773.5,185.5 774,188 774.5,186.67 775,198 775.5,214.67 776,226.33 776.5,231.33 777,221.33 777.5,211.33 778,206.33 778.5,198 779,195.5 779.5,196.33 780,206.33 780.5,218.83 781,206.33 781.5,200 782,206.33 782.5,211.33 783,212.17 783.5,211.33 784,212.17 784.5,206.33 785,198 785.5,191.33 786,187.17 786.5,198 787,186.33 787.5,178 788,173.83 788.5,181.33 789,188 789.5,178.83 790,188 790.5,194.67 791,198 791.5,203 792,209.67 792.5,214.67 793,219.67 793.5,225.5 794,225 794.5,223.83 795,224.67 795.5,218 796,212.17 796.5,214.67 797,209.67 797.5,228.33 798,214.67 798.5,189.67 799,168 799.5,163.83 800,163.83 800.5,164.67 801,169.67 801.5,168.83 802,170.5 802.5,189.67 803,206.33 803.5,207.17 804,208 804.5,203 805,214.67 805.5,198 806,194.67 806.5,195.5 807,203 807.5,196.33 808,188.83 808.5,203 809,191.33 809.5,206.33 810,193 810.5,188 811,189.67 811.5,183.83 812,186.33 812.5,177.17 813,189.67 813.5,203 814,181.33 814.5,165.5 815,189.67 815.5,211.33 816,223.83 816.5,218 817,235.5 817.5,223 818,214.67 818.5,209.67 819,208 819.5,206.33 820,208 820.5,208.83 821,212.17 821.5,198 822,185 822.5,198 823,208 823.5,198 824,192.17 824.5,208.83 825,198 825.5,191.33 826,185.5 826.5,208 827,191.33 827.5,181.33 828,176.67 828.5,189.67 829,206.33 829.5,214.67 830,201.33 830.5,218 831,221.33 831.5,211.33 832,201.33 832.5,198 833,188 833.5,185.5 834,193.83 834.5,183 835,182.17 835.5,183.83 836,191.33 836.5,184.67 837,198 837.5,209.67 838,198 838.5,192.17 839,181.33 839.5,176.33 840,189.67 840.5,194.67 841,207.17 841.5,198 842,191.33 842.5,181.33 843,166 843.5,189.67 844,198 844.5,209.67 845,214.33 845.5,203 846,201.33 846.33,201" stroke="#000" stroke-width="1.42" fill="none" stroke-linejoin="round" stroke-linecap="butt"/>
</g>
<rect x="625.8" y="151.53" width="230.57" height="91.82" fill="none" stroke="#444" stroke-width="0.85" stroke-linejoin="round"/>
<path d="M621.78 154.4H625.45M621.78 184.5H625.45M621.78 214.6H625.45M635.54 243.1V246.77M677.66 243.1V246.77M719.79 243.1V246.77M761.91 243.1V246.77M804.04 243.1V246.77M846.16 243.1V246.77" stroke="#333" stroke-width="1.42" fill="none"/>
<g font-size="12" letter-spacing="0.33" fill="#4d4d4d">
<text x="619.05" y="159.3" text-anchor="end">1.8</text>
<text x="619.05" y="189.4" text-anchor="end">1.7</text>
<text x="619.05" y="219.5" text-anchor="end">1.6</text>
<text x="635.64" y="258.8" text-anchor="middle">0</text>
<text x="677.76" y="258.8" text-anchor="middle">100</text>
<text x="719.89" y="258.8" text-anchor="middle">200</text>
<text x="762.01" y="258.8" text-anchor="middle">300</text>
<text x="804.14" y="258.8" text-anchor="middle">400</text>
<text x="846.26" y="258.8" text-anchor="middle">500</text>
</g>
<g font-size="15.2" letter-spacing="-0.44" fill="#000">
<text x="741.06" y="276.6" text-anchor="middle">Iteration</text>
<text transform="translate(593.9 197.22) rotate(-90)" text-anchor="middle">c2</text>
</g>
</g>
<g>
<clipPath id="c6"><rect x="39.45" y="295.33" width="241.22" height="91.77"/></clipPath>
<g clip-path="url(#c6)">
<path d="M39.45 295.7H280.67M39.45 320.7H280.67M39.45 345.7H280.67M39.45 370.7H280.67M71.95 295.33V387.1M115.89 295.33V387.1M159.84 295.33V387.1M203.79 295.33V387.1M247.73 295.33V387.1" stroke="#ebebeb" stroke-width="0.71" fill="none"/>
<path d="M39.45 308.2H280.67M39.45 333.2H280.67M39.45 358.2H280.67M39.45 383.2H280.67M49.98 295.33V387.1M93.92 295.33V387.1M137.87 295.33V387.1M181.81 295.33V387.1M225.76 295.33V387.1M269.71 295.33V387.1" stroke="#ebebeb" stroke-width="1.42" fill="none"/>
<path d="M50.5,318.67 51,323.67 51.5,335.33 52,323.67 52.5,365.33 53,368.67 53.33,351.17 53.83,382.83 54.33,365.33 54.83,363.67 55.33,370.33 55.83,363.67 56.33,342 56.83,322.83 57.33,325.33 57.83,305 58.33,306.17 58.83,333.67 59.33,355.33 59.83,349.5 60.33,362 60.83,374.5 61.33,370.33 61.83,378.67 62.33,377 62.83,377.83 63.33,372 63.83,367 64.33,354.5 64.83,365.33 65.33,373.67 65.83,363.67 66.33,375.33 66.83,383.33 67.33,367 67.83,382 68.33,378.67 68.83,367.83 69.33,378.67 69.83,368.67 70.33,370.33 70.83,377 71.33,373.67 71.83,367 72.33,360.67 72.83,370.33 73.33,380.33 73.83,373.67 74.33,367.83 74.83,375.33 75.33,378.67 75.83,368.67 76.33,359.5 76.83,370.33 77.33,365.33 77.83,371.17 78.33,358.67 78.83,345.67 79.33,358.67 79.83,367 80.33,345.33 80.83,330.67 81.33,340.33 81.83,345.33 82.33,337.83 82.83,335.67 83.33,348.67 83.83,357 84.33,341.67 84.83,358.67 85.33,375.33 85.83,377 86.33,379.5 86.83,375.33 87.33,378.67 87.83,372 88.33,358.67 88.83,350 89.33,363.67 89.83,375.33 90.33,367 90.83,353.67 91.33,355.33 91.83,342 92.33,328.67 92.83,323.67 93.33,333.67 93.83,342 94.33,335.33 94.83,340.33 95.33,325.33 95.83,313.67 96.33,309.17 96.83,325.33 97.33,341.17 97.83,325 98.33,333.67 98.83,347 99.33,358.67 99.83,365.33 100.33,370.33 100.83,372 101.33,375.33 101.83,378.67 102.33,380.33 102.83,382 103.33,382.83 103.83,375.33 104.33,363.67 104.83,333.67 105.33,312.83 105.83,333.67 106.33,358.67 106.83,350.33 107.33,368.67 107.83,365.33 108.33,347 108.83,329.5 109.33,335.33 109.83,313.67 110.33,299.5 110.83,325.33 111.33,342 111.83,322 112.33,314.5 112.83,335.33 113.33,326.67 113.83,338.67 114.33,347 114.83,340.33 115.33,335.67 115.83,348.67 116.33,357 116.83,362 117.33,353.67 117.83,377 118.33,365.33 118.83,363.67 119.33,372 119.83,367 120.33,369.5 120.83,358.67 121.33,365.33 121.83,372 122.33,368.67 122.83,375.33 123.33,380.33 123.83,365.33 124.33,356.17 124.83,368.67 125.33,355.33 125.83,372 126.33,362 126.83,354.5 127.33,365.33 127.83,382 128.33,367 128.83,353.67 129.33,345.33 129.83,341.67 130.33,348.67 130.83,375.33 131.33,348.67 131.83,365.33 132.33,372.83 132.83,368.67 133.33,370.33 133.83,367 134.33,365.33 134.83,355.33 135.33,350.33 135.83,343.67 136.33,342 136.83,366.17 137.33,340.67 137.83,342 138.33,358.67 138.83,370.33 139.33,365.33 139.83,372 140.33,380.33 140.83,355 141.33,370.33 141.83,380.33 142.33,382 142.83,367 143.33,363.67 143.83,378.67 144.33,355 144.83,368.67 145.33,380.33 145.83,365.33 146.33,375.33 146.83,380.33 147.33,372 147.83,365.33 148.33,350.33 148.83,332.83 149.33,358.67 149.83,379.5 150.33,372 150.83,378.67 151.33,365.33 151.83,375.33 152.33,370.33 152.83,377 153.33,367 153.83,373.67 154.33,367.83 154.83,383.33 155.33,375.33 155.83,365.33 156.33,360.33 156.83,354.5 157.33,365.33 157.83,373.67 158.33,375.33 158.83,380.33 159.33,378.67 159.83,382 160.33,379.5 160.83,378.67 161.33,375.33 161.83,365.33 162.33,358.67 162.83,346.17 163.33,358.67 163.83,370.33 164.33,357.83 164.83,369.5 165.33,358.67 165.83,370.33 166.33,359.5 166.83,368.67 167.33,375.33 167.83,377 168.33,372 168.83,373.67 169.33,362 169.83,351.17 170.33,365.33 170.83,372 171.33,363.67 171.83,354.5 172.33,367 172.83,378.67 173.33,372 173.83,377 174.33,359.5 174.83,368.67 175.33,375.33 175.83,372 176.33,362 176.83,382.83 177.33,372 177.83,355.67 178.33,365.33 178.83,375.33 179.33,362 180,373.67 180.5,365.33 181,358.67 181.5,352.83 182,362 182.5,372 183,365.33 183.5,361.17 184,382 184.5,372 185,362 185.5,375.33 186,363.67 186.5,380.33 187,367 187.5,359.5 188,370.33 188.5,378.67 189,367 189.5,380.33 190,372 190.5,375.33 191,365.33 191.5,362.83 192,372 192.5,379.5 193,373.67 193.5,375.33 194,373.67 194.5,372 195,373.67 195.5,375.33 196,362 196.5,350.33 197,368.67 197.5,375.33 198,358.67 198.5,347.83 199,363.67 199.5,377 200,348.67 200.5,335.33 201,342 201.5,340.33 202,355.33 202.5,353.67 203,367 203.5,377 204,365.33 204.5,357.83 205,370.33 205.5,362 206,375.33 206.5,378.67 207,382 207.5,372 208,362 208.5,353.67 209,358.67 209.5,365.33 210,368.67 210.5,365.33 211,375.33 211.5,377 212,372 212.5,355.33 213,341.67 213.5,358.67 214,370.33 214.5,358.67 215,362 215.5,338.67 216,326.17 216.5,358.67 217,377.83 217.5,342 218,323.67 218.33,322.33 218.83,342 219.33,362 219.83,375.33 220.33,358.67 220.83,352 221.33,350.33 221.83,367 222.33,357.83 222.83,370.33 223.33,377 223.83,381.17 224.33,372 224.83,365.33 225.33,375.33 225.83,365.33 226.33,368.67 226.83,350.33 227.33,327.83 227.83,350.33 228.33,372 228.83,365.33 229.33,380.33 229.83,370.33 230.33,358.67 230.83,344.5 231.33,348.67 231.83,363.67 232.33,358.67 232.83,370.33 233.33,375.33 233.83,378.67 234.33,382 234.83,378.67 235.33,382.83 235.83,375.33 236.33,382 236.83,378.67 237.33,375.33 237.83,367 238.33,353.67 238.67,345.33 239.17,358.67 239.67,370.33 240.17,375.33 240.67,365.33 241.17,362 241.67,357 242.17,362 242.67,368.67 243.17,363.67 243.67,372 244.17,377 244.67,367 245.17,373.67 245.67,358.67 246.17,352.83 246.67,367 247.17,378.67 247.67,368.67 248.17,365.33 248.67,358.67 249.17,347 249.67,338.67 250.17,330.33 250.67,350.33 251.17,372 251.67,378.67 252.17,381.17 252.67,375.33 253.17,377 253.67,373.67 254.17,372 254.67,362 255.17,350.33 255.67,336.67 256.17,340.33 256.67,325.33 257.17,323.67 257.67,335.33 258.17,322.83 258.67,338.67 259.17,355.33 259.67,364.5 260.17,350.33 260.67,333.67 261.17,318.17 261.67,333.67 262.17,354.5 262.67,323.67 263.17,350.33 263.67,367 264.17,358.67 264.67,355.33 265.17,350.33 265.67,363.67 266.17,378.33 266.67,370.33 267.17,367 267.67,355.33 268.17,344.5 268.67,374.5 269.17,335.67 269.67,350.33 270,360.33" stroke="#000" stroke-width="1.42" fill="none" stroke-linejoin="round" stroke-linecap="butt"/>
</g>
<rect x="39.8" y="295.53" width="240.57" height="91.82" fill="none" stroke="#444" stroke-width="0.85" stroke-linejoin="round"/>
<path d="M35.78 308.2H39.45M35.78 333.2H39.45M35.78 358.2H39.45M35.78 383.2H39.45M49.98 387.1V390.77M93.92 387.1V390.77M137.87 387.1V390.77M181.81 387.1V390.77M225.76 387.1V390.77M269.71 387.1V390.77" stroke="#333" stroke-width="1.42" fill="none"/>
<g font-size="12" letter-spacing="0.33" fill="#4d4d4d">
<text x="33.05" y="313.1" text-anchor="end">3</text>
<text x="33.05" y="338.1" text-anchor="end">2</text>
<text x="33.05" y="363.1" text-anchor="end">1</text>
<text x="33.05" y="388.1" text-anchor="end">0</text>
<text x="50.08" y="402.8" text-anchor="middle">0</text>
<text x="94.02" y="402.8" text-anchor="middle">100</text>
<text x="137.97" y="402.8" text-anchor="middle">200</text>
<text x="181.91" y="402.8" text-anchor="middle">300</text>
<text x="225.86" y="402.8" text-anchor="middle">400</text>
<text x="269.81" y="402.8" text-anchor="middle">500</text>
</g>
<g font-size="15.2" letter-spacing="-0.44" fill="#000">
<text x="160.06" y="420.6" text-anchor="middle">Iteration</text>
<text transform="translate(17.9 341.22) rotate(-90)" text-anchor="middle">Y1_g1</text>
</g>
</g>
<g>
<clipPath id="c7"><rect x="351.45" y="295.33" width="217.22" height="91.77"/></clipPath>
<g clip-path="url(#c7)">
<path d="M351.45 313.35H568.67M351.45 333.45H568.67M351.45 353.55H568.67M351.45 373.65H568.67M380.71 295.33V387.1M420.29 295.33V387.1M459.86 295.33V387.1M499.44 295.33V387.1M539.01 295.33V387.1" stroke="#ebebeb" stroke-width="0.71" fill="none"/>
<path d="M351.45 303.3H568.67M351.45 323.4H568.67M351.45 343.5H568.67M351.45 363.6H568.67M351.45 383.7H568.67M360.93 295.33V387.1M400.5 295.33V387.1M440.08 295.33V387.1M479.65 295.33V387.1M519.22 295.33V387.1M558.8 295.33V387.1" stroke="#ebebeb" stroke-width="1.42" fill="none"/>
<path d="M361.33,366.17 361.83,373.67 362.33,374.5 362.83,347 363.33,362 363.83,345.33 364.33,307.33 364.83,342 365.33,364.5 365.83,332.83 366.33,358.67 366.83,380.33 367.33,378.67 367.83,358.67 368.33,334.5 368.83,350.33 369.33,336.17 369.83,370.33 370.33,358.67 370.83,340.33 371.33,328.67 371.83,335.33 372.33,350.33 372.83,338.67 373.33,349.5 373.83,332 374.33,347.83 374.83,338.67 375.33,325.67 375.83,335.33 376.33,325.67 376.83,342 377.33,365.33 377.83,333.67 378.33,355.33 378.83,343.67 379.33,340.33 379.83,347.83 380.33,341.17 380.83,342 381.33,333.67 381.83,326.5 382.33,333.67 382.83,348.67 383.33,342 383.83,338.67 384.33,348.67 384.83,333.67 385.33,342 385.83,347 386.33,354.5 386.83,345.33 387.33,342.83 387.83,358.67 388.33,370.33 388.83,378.67 389.33,381.17 389.83,367 390.33,358.67 390.83,353.67 391.33,368.67 391.83,362 392.33,350.33 392.83,332 393.33,342 393.83,335.33 394.33,328.33 394.83,342 395.33,340.33 395.83,360.33 396.33,341.17 396.83,350.33 397.33,358.67 397.83,347 398.33,358.67 398.83,350.33 399.33,372.83 399.83,358.67 400.33,347.83 400.83,375.33 401.33,382.83 401.83,372 402.33,362 402.83,378.67 403.33,360.33 403.83,370.33 404.33,362 404.83,355.33 405.33,348.67 405.83,333.67 406.33,317.83 406.83,333.67 407.33,331.17 407.83,342 408.33,335.33 408.83,334 409.33,340.33 409.83,342 410.33,358.67 410.83,383.33 411.33,358.67 411.83,342 412.33,336.67 412.83,355.33 413.33,374.5 413.83,365.33 414.33,352.33 414.83,373.67 415.33,365.33 415.83,376.17 416.33,365.33 416.83,379.5 417.33,365.33 417.83,375.33 418.33,356.17 418.83,377 419.33,367 419.83,354.5 420.33,357 420.83,350.33 421.33,342 421.83,325.33 422.33,309 422.83,342 423.33,350.33 423.83,327.33 424.33,342 424.83,355.33 425.33,342 425.83,330.33 426.33,350.33 426.83,323.67 427.33,342 427.83,371.67 428.33,355.33 428.83,347 429.33,350.33 429.83,362 430.33,353.67 430.83,339.5 431.33,342 431.83,360.33 432.33,370.33 432.83,358.67 433.33,377 433.83,363.67 434.33,350.33 434.83,333.67 435.33,317.33 435.83,342 436.33,358.67 436.83,350.33 437.33,341.17 437.83,355.33 438.33,368.67 438.83,350.33 439.33,335.67 439.83,350.33 440.33,366.17 440.83,355.33 441.33,347 441.83,353.67 442.33,345.33 442.83,348.67 443.33,333.67 443.83,309.33 444.33,325.33 444.83,338.67 445.33,342 445.83,350.33 446.33,340.33 446.83,336.17 447.33,348.67 447.83,337 448.33,342 448.83,348.67 449.33,358.67 449.83,370 450.33,350.33 450.83,330.67 451.33,342 451.83,347 452.33,333.67 452.83,322.83 453.33,333.67 453.83,347 454.33,342 454.83,333.67 455.33,322 455.83,320.67 456.33,342 456.83,361.17 457.33,350.33 457.83,342 458.33,335.33 458.83,328.67 459.33,342 459.83,355.67 460.33,342 460.83,330.67 461.33,342 461.83,352 462.33,364.5 462.83,350.33 463.33,329.5 463.83,342 464.33,353.67 464.83,347 465.33,352.83 465.83,342 466.33,335.67 466.83,347 467.33,340.33 467.83,330.33 468.33,321.17 468.83,342 469.33,352.33 469.83,342 470.33,358.67 470.83,369.5 471.33,350.33 471.83,333.67 472.33,327.33 472.83,342 473.33,352 473.83,343.67 474.33,338.67 474.83,331.5 475.33,342 475.83,338.67 476.33,350.33 476.83,359.5 477.33,350.33 477.83,341.17 478.33,350.33 478.83,355.33 479.33,360.33 479.83,350.33 480.33,333.67 480.83,319.5 481.33,342 481.83,362.83 482.33,326.17 482.83,352 483.33,333.67 483.83,342 484.33,357.83 484.83,342 485.33,330.67 485.83,347 486.33,355.33 486.83,342 487.33,333.67 487.83,350.33 488.33,362 488.83,342 489.33,328.33 490,342 490.5,342 491,355.33 491.5,342 492,333.67 492.5,329 493,342 493.5,370.33 494,355.33 494.5,342 495,350.33 495.5,345.33 496,358.67 496.5,365.33 497,370.33 497.5,373.67 498,365.33 498.5,358.67 499,342 499.5,350.33 500,342.83 500.5,342 501,355.33 501.5,347 502,342 502.5,337 503,350.33 503.5,368.33 504,358.67 504.5,347 505,342 505.5,333.67 506,322.83 506.5,342 507,350.33 507.5,338.67 508,326.17 508.5,350.33 509,370.33 509.5,362 510,376.17 510.5,367 511,350.33 511.5,345.33 512,370.33 512.5,355.33 513,342 513.5,338.67 514,350.33 514.5,369.5 515,355.33 515.5,342 516,343.67 516.5,332.33 517,342 517.5,350.33 518,337.83 518.5,357.83 519,342 519.5,350.33 520,364.5 520.5,342 521,328.67 521.5,342 522,355.33 522.5,332 523,342 523.5,355.33 524,365.33 524.5,370.67 525,358.67 525.5,350.33 526,345.33 526.5,342 527,337 527.5,342 528,333.67 528.5,316.17 529,333.67 529.5,345.33 530,338.67 530.5,347 531,340.33 531.5,347.83 532,335.33 532.5,329.5 533,342 533.5,358.67 534,342 534.5,331.17 535,347 535.5,355.33 536,342 536.5,332 537,362 537.5,342 538,321.17 538.5,342 539,310.33 539.5,333.67 540,347 540.5,332 541,362.83 541.5,342 542,332 542.5,340.33 543,322.83 543.5,342 544,333.67 544.5,340.33 545,337 545.5,347 546,355.33 546.5,363.67 546.83,324.5 547.33,367 547.67,382.83 548.17,367 548.67,358.67 549.17,378.67 549.67,334 550.17,358.67 550.67,372 551.17,381.17 551.67,358.67 552.17,345.67 552.67,372 553.17,358.67 553.67,378.67 554.17,365.33 554.67,355.33 555.17,342 555.67,322 556,299.5 556.5,333.67 557,350.33 557.5,342 558,331.5 558.5,350.33" stroke="#000" stroke-width="1.42" fill="none" stroke-linejoin="round" stroke-linecap="butt"/>
</g>
<rect x="351.8" y="295.53" width="216.57" height="91.82" fill="none" stroke="#444" stroke-width="0.85" stroke-linejoin="round"/>
<path d="M347.78 303.3H351.45M347.78 323.4H351.45M347.78 343.5H351.45M347.78 363.6H351.45M347.78 383.7H351.45M360.93 387.1V390.77M400.5 387.1V390.77M440.08 387.1V390.77M479.65 387.1V390.77M519.22 387.1V390.77M558.8 387.1V390.77" stroke="#333" stroke-width="1.42" fill="none"/>
<g font-size="12" letter-spacing="0.33" fill="#4d4d4d">
<text x="345.05" y="308.2" text-anchor="end">0.100</text>
<text x="345.05" y="328.3" text-anchor="end">0.075</text>
<text x="345.05" y="348.4" text-anchor="end">0.050</text>
<text x="345.05" y="368.5" text-anchor="end">0.025</text>
<text x="345.05" y="388.6" text-anchor="end">0.000</text>
<text x="361.03" y="402.8" text-anchor="middle">0</text>
<text x="400.6" y="402.8" text-anchor="middle">100</text>
<text x="440.18" y="402.8" text-anchor="middle">200</text>
<text x="479.75" y="402.8" text-anchor="middle">300</text>
<text x="519.32" y="402.8" text-anchor="middle">400</text>
<text x="558.9" y="402.8" text-anchor="middle">500</text>
</g>
<g font-size="15.2" letter-spacing="-0.44" fill="#000">
<text x="460.06" y="420.6" text-anchor="middle">Iteration</text>
<text transform="translate(305.9 341.22) rotate(-90)" text-anchor="middle">Y1_g2</text>
</g>
</g>
<g>
<clipPath id="c8"><rect x="633.45" y="295.33" width="223.22" height="91.77"/></clipPath>
<g clip-path="url(#c8)">
<path d="M633.45 308.12H856.67M633.45 334.48H856.67M633.45 360.88H856.67M663.52 295.33V387.1M704.19 295.33V387.1M744.86 295.33V387.1M785.52 295.33V387.1M826.19 295.33V387.1" stroke="#ebebeb" stroke-width="0.71" fill="none"/>
<path d="M633.45 321.3H856.67M633.45 347.7H856.67M633.45 374H856.67M643.19 295.33V387.1M683.86 295.33V387.1M724.52 295.33V387.1M765.19 295.33V387.1M805.86 295.33V387.1M846.52 295.33V387.1" stroke="#ebebeb" stroke-width="1.42" fill="none"/>
<path d="M643.5,357.83 644,350.33 644.5,338.67 645,322 645.5,307.83 646,308.67 646.5,325.33 647,357.83 647.5,325.33 648,342 648.5,321.17 649,352 649.5,322.83 650,335.33 650.5,351.17 651,333.67 651.5,327.83 652,325.33 652.5,323.67 653,317 653.5,312 654,308.67 654.5,325.33 655,345.33 655.5,333.67 656,319.5 656.5,349.5 657,342 657.5,333.67 658,325.33 658.5,319.5 659,327.83 659.5,318.67 660,325.33 660.5,317.83 661,333.67 661.5,325.33 662,317 662.5,308.67 663,302.33 663.5,313.67 664,325.33 664.5,337 665,312.83 665.5,325.33 666,342 666.5,312.83 667,325.33 667.5,337.83 668,317 668.5,310.33 669,325.33 669.5,313.67 670,325.33 670.5,319.5 671,323.67 671.5,330.33 672,342 672.5,353.67 673,342 673.5,332 674,347 674.5,358.67 675,361.17 675.5,333.67 676,314.5 676.5,310.33 677,302.33 677.5,305.33 678,303.67 678.5,312 679,307.83 679.5,325.33 680,340.33 680.5,317 681,307 681.5,333.67 682,358.67 682.5,379.5 683,358.67 683.5,335.33 684,358.67 684.5,377 685,334.5 685.5,355.33 686,333.67 686.5,354.5 687,332 687.5,380.33 688,350.33 688.5,322 689,342 689.5,368.67 690,350.33 690.5,310.33 691,340.33 691.5,322 692,312 692.5,325.33 693,333.67 693.5,313.67 694,304.5 694.5,325.33 695,307 695.5,307.83 696,325.33 696.5,317 697,330.33 697.5,342 698,358.67 698.5,370.67 699,358.67 699.5,342 700,332 700.5,342 701,359.5 701.5,350.33 702,342 702.5,338.67 703,335.33 703.5,332 704,328.67 704.5,325.33 705,322 705.5,313.67 706,342 706.5,358.67 707,333.67 707.5,318.67 708,325.33 708.5,312 709,305.33 709.5,325.33 710,307.83 710.5,333.67 711,353.67 711.5,333.67 712,313.67 712.5,310.33 713,325.33 713.5,313.67 714,307 714.5,317 715,332 715.5,317 716,304.5 716.5,325.33 717,342 717.5,348.67 718,333.67 718.5,307.5 719,325.33 719.5,336.17 720,317 720.5,307.83 721,310.33 721.5,325.33 722,313.67 722.5,333.67 723,347 723.5,333.67 724,325.33 724.5,317 725,311.17 725.5,325.33 726,342 726.5,325.33 727,311.17 727.5,313.67 728,333.67 728.5,348.67 729,340.33 729.5,327 730,340.33 730.5,325.33 731,317 731.5,308.67 732,303.67 732.5,302.33 733,317 733.5,328.67 734,303.67 734.5,325.33 735,340.33 735.5,317 736,305.33 736.5,325.33 737,345.33 737.5,312 738,299.5 738.5,311.17 739,307.83 739.5,317 740,328.67 740.5,340.33 741,337 741.5,347.33 742,333.67 742.5,317 743,307.83 743.5,312 744,308.67 744.5,320.33 745,308.67 745.5,302.83 746,317 746.5,312 747,332 747.5,317 748,312 748.5,318.67 749,312.83 749.5,319.5 750,312 750.5,329.5 751,317 751.5,310.33 752,308.67 752.5,307.83 753,319.5 753.5,328.67 754,340.33 754.5,325.33 755,312.83 755.5,317 756,312 756.5,314.5 757,311.67 757.5,344 758,325.33 758.5,312 759,307 759.5,318.67 760,307.83 760.5,306.17 761,317 761.5,308.67 762,329.5 762.5,317 763,308.67 763.5,303.67 764,301.17 764.5,313.67 765,332 765.5,317 766,311.17 766.5,322 767,333.67 767.5,325.33 768,317 768.5,310.33 769,308.67 769.5,313.67 770,309.5 770.5,326.17 771,317 771.5,311.17 772,313.67 772.5,308.67 773,302.83 773.5,325.33 774,349.5 774.5,325.33 775,317 775.5,323.67 776,312 776.5,305.33 777,299.5 777.5,317 778,325.33 778.5,313.67 779,337 779.5,325.33 780,308.67 780.5,347 781,333.67 781.5,312 782,325.33 782.5,335.33 783,322 783.5,333.67 784,325.33 784.5,322 785,317 785.5,312 786,310 786.5,317 787,327 787.5,313.67 788,308.67 788.5,300.33 789,317 789.5,327.83 790,317 790.5,308.67 791,306.17 791.5,301.17 792,317 792.5,325.33 793,333.67 793.5,354.5 794,342 794.5,325.33 795,310.33 795.5,333.67 796,352 796.5,333.67 797,325.33 797.5,321.17 798,333.67 798.5,367 799,350.33 799.5,325.33 800,333.67 800.5,310.33 801,333.67 801.5,345.33 802,325.33 802.5,317 803,330.33 803.5,308.67 804,302.33 804.5,308.67 805,305.33 805.5,310.33 806,303.67 806.5,317 807,331.17 807.5,317 808,308.67 808.5,300.33 809,305.33 809.5,308.67 810,313.67 810.5,325.33 811,350.33 811.5,367.83 812,333.67 812.5,308.67 813,300.67 813.5,308.67 814,313.67 814.5,312.83 815,317 815.5,325.33 816,328.67 816.5,315.33 817,325.33 817.5,335.33 818,332 818.5,338.33 819,325.33 819.5,318.67 820,333.67 820.5,337 821,325.33 821.5,317 822,309.5 822.5,308.67 823,317 823.5,325.33 824,333.67 824.5,338.67 825,344.5 825.5,333.67 826,317 826.5,309.5 827,333.67 827.5,350.33 828,365.33 828.5,383.33 829,350.33 829.5,332 830,360.33 830.5,342 831,325.33 831.5,312 832,325.33 832.5,333.67 833,322.83 833.5,342 834,373.67 834.5,350.33 835,325.33 835.5,342 836,350.33 836.5,333.67 837,325.33 837.5,313.67 838,322 838.5,328.67 839,335.33 839.5,325.33 840,337 840.5,317 841,341.17 841.5,325.33 842,315.33 842.5,332 843,316.17 843.5,373.67 844,333.67 844.5,308.67 845,307.83 845.5,338.67 846,325.33 846.5,314.5" stroke="#000" stroke-width="1.42" fill="none" stroke-linejoin="round" stroke-linecap="butt"/>
</g>
<rect x="633.8" y="295.53" width="222.57" height="91.82" fill="none" stroke="#444" stroke-width="0.85" stroke-linejoin="round"/>
<path d="M629.78 321.3H633.45M629.78 347.7H633.45M629.78 374H633.45M643.19 387.1V390.77M683.86 387.1V390.77M724.52 387.1V390.77M765.19 387.1V390.77M805.86 387.1V390.77M846.52 387.1V390.77" stroke="#333" stroke-width="1.42" fill="none"/>
<g font-size="12" letter-spacing="0.33" fill="#4d4d4d">
<text x="627.05" y="326.2" text-anchor="end">-148</text>
<text x="627.05" y="352.6" text-anchor="end">-152</text>
<text x="627.05" y="378.9" text-anchor="end">-156</text>
<text x="643.29" y="402.8" text-anchor="middle">0</text>
<text x="683.96" y="402.8" text-anchor="middle">100</text>
<text x="724.62" y="402.8" text-anchor="middle">200</text>
<text x="765.29" y="402.8" text-anchor="middle">300</text>
<text x="805.96" y="402.8" text-anchor="middle">400</text>
<text x="846.62" y="402.8" text-anchor="middle">500</text>
</g>
<g font-size="15.2" letter-spacing="-0.44" fill="#000">
<text x="745.06" y="420.6" text-anchor="middle">Iteration</text>
<text transform="translate(593.9 341.22) rotate(-90)" text-anchor="middle">LogPost</text>
</g>
</g>
<g>
<clipPath id="c9"><rect x="60.45" y="439.33" width="220.22" height="91.77"/></clipPath>
<g clip-path="url(#c9)">
<path d="M60.45 454H280.67M60.45 472.63H280.67M60.45 491.33H280.67M60.45 510.03H280.67M60.45 528.63H280.67M90.12 439.33V531.1M130.24 439.33V531.1M170.36 439.33V531.1M210.48 439.33V531.1M250.6 439.33V531.1" stroke="#ebebeb" stroke-width="0.71" fill="none"/>
<path d="M60.45 444.67H280.67M60.45 463.3H280.67M60.45 482H280.67M60.45 500.7H280.67M60.45 519.3H280.67M70.06 439.33V531.1M110.18 439.33V531.1M150.3 439.33V531.1M190.42 439.33V531.1M230.54 439.33V531.1M270.66 439.33V531.1" stroke="#ebebeb" stroke-width="1.42" fill="none"/>
<path d="M70.5,443.5 71.33,461 72.17,479.67 72.83,484.67 73.33,480.17 73.67,491.83 74.17,484.33 74.83,474 75.33,486 75.83,476 76.33,485.17 76.83,475.67 77.67,476 78.5,476.33 79.17,481 79.83,489.33 80.67,501 81.5,511 82.33,517.67 83.33,520.17 84,516 84.5,506 85,497.33 85.5,502.67 86,511.83 86.67,507.67 87.17,510.17 87.67,502.67 88.5,494.33 89.33,491 90,487.67 90.67,484.33 91.17,489.33 91.67,485.17 92.33,492.67 93,500.17 94,501.33 94.67,496 95.33,489.33 95.67,485.17 96.33,491 97,484.33 97.67,469.33 98.67,465.17 99.67,464.67 100.67,466 101.33,474.33 102,486 102.67,496 103.5,493.5 104,490.17 104.67,494.33 105.33,491 106,487.67 107,486.83 107.67,477.67 108.33,457.67 109,445.67 109.67,452.67 110.17,457.67 110.67,451.83 111.33,452.67 112,451.83 112.67,466 113.5,468.5 114.33,475.17 114.83,471 115.67,482.67 116.33,491 117,497.67 117.67,505.17 118.67,504.67 119.5,505.17 120.17,497.67 120.83,486 121.33,481.83 122,493.5 122.67,486 123.33,476 124,466.83 124.67,457.67 125.67,449.67 126.33,452.67 126.83,460.17 127.33,453.5 128,461 128.67,466.83 129.33,471 130.17,471.83 131,479.33 131.67,492.67 132.33,480.17 133.17,479.33 133.83,487.67 134.33,484.33 135,489.33 135.67,480.17 136.33,486 137,491.83 137.67,485.17 138.33,492.67 139,501 139.67,494.33 140.33,502.67 141,494.33 141.67,504.33 142.33,496 143,501.83 143.67,507.67 144.33,501.83 145.17,500.17 146,497.67 146.83,491 147.67,486 148.5,477.67 149.33,475.17 150,468 150.67,479.33 151.33,486 152.17,490.17 153,489.33 153.67,486 154.33,484.33 155,492.67 155.67,502.67 156.5,501.83 157.33,497.67 158,494.33 158.83,492.67 159.67,496.83 160.33,500.17 161,492.67 162,490.67 163,491 163.67,501 164.33,502.67 165,499.33 165.67,507.33 166.33,497.67 167,496.83 167.67,499.33 168.33,497.67 169,501 169.67,505.17 170.33,499.33 171,491 172,489.67 173,490.17 173.67,497.67 174.33,504.33 175,496 175.67,503.5 176.33,493.5 177,502.67 177.67,494.33 178.5,493.5 179.33,492.67 180.17,489.33 181,485.17 181.67,483.5 182.33,486 183,477.33 183.67,491 184.33,493.5 185.17,496 186,499.33 186.83,502.67 187.67,508.5 188.5,511.83 189,503.5 189.67,507.67 190.33,494.33 191,492.67 191.83,493.5 192.5,502.33 193.17,492.67 194,491.83 195,487.67 196,486.83 197,489.33 198,491.83 199,492.67 200,493.5 200.83,500.17 201.67,492.67 202.67,493.5 203.67,489.33 204.67,491 205.33,486 206,481 206.67,483.5 207.33,480.17 208,481 208.67,476 209.67,472.33 210.33,484.33 211,491 211.67,486 212.33,477.67 213,492.67 213.67,498.5 214.5,493.5 215.33,500.17 216.33,494.33 217.17,497.67 218,492.67 219,496.83 220,491.83 221,496 222,490.17 222.83,493.5 223.5,501 224.17,491 225,491.83 225.67,494.33 226.33,501 227,496 227.83,500.17 228.67,493.5 229.67,495.17 230.5,498.5 231.33,491 232,489.67 232.67,497.67 233.33,490.17 234.33,494.33 235,491.83 235.83,495.17 236.67,492.67 237.5,497.67 238.33,500.17 239,503.5 239.67,497.67 240.33,489.33 241,490.17 241.67,480.67 242.33,486 243,489.33 243.67,484.33 244.33,479.33 245.17,472.33 245.83,481 246.5,491 247.17,496.83 247.83,491 248.5,486.83 249.17,484.83 249.67,494.33 250.33,502.67 251,506 251.67,509.33 252.33,514.33 253,527.33 253.5,516 254,511.83 254.5,517.67 255,504.33 255.67,497.67 256.33,487.67 257,480.17 257.67,469.33 258.33,459 259,469.33 259.5,477.67 260,467.67 260.67,463 261.33,476 262,486 262.67,491.83 263.33,494.33 264,491 264.67,484.33 265.33,477.67 266,474.67 266.67,482.67 267.33,488.5 268,485.17 268.67,486 269.33,491.83 270,479.67 270.67,486 271.17,489.33" stroke="#000" stroke-width="1.42" fill="none" stroke-linejoin="round" stroke-linecap="butt"/>
</g>
<rect x="60.8" y="439.53" width="219.57" height="91.82" fill="none" stroke="#444" stroke-width="0.85" stroke-linejoin="round"/>
<path d="M56.78 444.67H60.45M56.78 463.3H60.45M56.78 482H60.45M56.78 500.7H60.45M56.78 519.3H60.45M70.06 531.1V534.77M110.18 531.1V534.77M150.3 531.1V534.77M190.42 531.1V534.77M230.54 531.1V534.77M270.66 531.1V534.77" stroke="#333" stroke-width="1.42" fill="none"/>
<g font-size="12" letter-spacing="0.33" fill="#4d4d4d">
<text x="54.05" y="449.57" text-anchor="end">-0.25</text>
<text x="54.05" y="468.2" text-anchor="end">-0.30</text>
<text x="54.05" y="486.9" text-anchor="end">-0.35</text>
<text x="54.05" y="505.6" text-anchor="end">-0.40</text>
<text x="54.05" y="524.2" text-anchor="end">-0.45</text>
<text x="70.16" y="546.8" text-anchor="middle">0</text>
<text x="110.28" y="546.8" text-anchor="middle">100</text>
<text x="150.4" y="546.8" text-anchor="middle">200</text>
<text x="190.52" y="546.8" text-anchor="middle">300</text>
<text x="230.64" y="546.8" text-anchor="middle">400</text>
<text x="270.76" y="546.8" text-anchor="middle">500</text>
</g>
<g font-size="15.2" letter-spacing="-0.44" fill="#000">
<text x="170.56" y="564.6" text-anchor="middle">Iteration</text>
<text transform="translate(17.9 485.22) rotate(-90)" text-anchor="middle">b1</text>
</g>
</g>
<g>
<clipPath id="c10"><rect x="337.45" y="439.33" width="231.22" height="91.77"/></clipPath>
<g clip-path="url(#c10)">
<path d="M337.45 456.88H568.67M337.45 486.08H568.67M337.45 515.28H568.67M368.6 439.33V531.1M410.73 439.33V531.1M452.85 439.33V531.1M494.97 439.33V531.1M537.1 439.33V531.1" stroke="#ebebeb" stroke-width="0.71" fill="none"/>
<path d="M337.45 442.3H568.67M337.45 471.5H568.67M337.45 500.7H568.67M337.45 529.8H568.67M347.54 439.33V531.1M389.66 439.33V531.1M431.79 439.33V531.1M473.91 439.33V531.1M516.04 439.33V531.1M558.16 439.33V531.1" stroke="#ebebeb" stroke-width="1.42" fill="none"/>
<path d="M347.83,518.5 348.33,521.83 348.83,509.33 349.33,494.33 349.83,511 350.33,499.33 350.83,484.33 351.33,501 351.83,491 352.33,505.17 352.83,483.5 353.33,504.33 353.83,494.33 354.33,489.33 354.83,497.67 355.33,491 355.83,489.33 356.33,490.17 356.83,487.67 357.33,477.67 357.83,471.5 358.33,486 358.83,500.17 359.33,478.5 359.83,489.33 360.33,496 360.83,486 361.33,505.17 361.83,476.83 362.33,491 362.83,507.33 363.33,499.33 363.83,495.17 364.33,504.33 364.83,494.33 365.33,489.33 365.83,486 366.33,483.5 366.83,489.33 367.33,477.67 367.83,474.33 368.33,508.5 368.83,479.33 369.33,491 369.83,502.67 370.33,494.33 370.83,509.33 371.33,511 371.83,516.33 372.33,507.67 372.83,503.5 373.33,516 373.83,494.33 374.33,488.5 374.83,492.67 375.33,499.33 375.83,494.33 376.33,501 376.83,484.33 377.33,494.33 377.83,486 378.33,480.17 378.83,500.17 379.33,486 379.83,479.33 380.33,473.5 380.83,491 381.33,501 381.83,512.33 382.33,494.33 382.83,484.33 383.33,494.33 383.83,477.67 384.33,460.67 384.83,477.67 385.33,489.33 385.83,479.33 386.33,499.33 386.83,485.17 387.33,486 387.83,489.33 388.33,483.5 388.83,502.67 389.33,513.5 389.83,494.33 390.33,484.33 390.83,477.33 391.33,502.67 391.83,517.67 392.33,499.33 392.83,477.67 393.33,461.33 393.83,486 394.33,509.33 394.83,516.83 395.33,499.33 395.83,482.67 396.33,469.33 396.83,457.67 397.33,455.5 397.83,469.33 398.33,479.33 398.83,489.33 399.33,504.33 399.83,497.67 400.33,499.33 400.83,485.17 401.33,506 401.83,491 402.33,481.33 402.83,486 403.33,484.33 403.83,502.67 404.33,509.33 404.83,499.33 405.33,489.33 405.83,494.33 406.33,479.67 406.83,492.67 407.33,502.67 407.83,486 408.33,471.33 408.83,494.33 409.33,513.5 409.83,501 410.33,514.33 410.83,499.33 411.33,512.67 411.83,496.83 412.33,509.33 412.83,518.5 413.33,503.5 413.83,519.33 414.33,509.33 414.83,504.33 415.33,511.83 415.83,494.33 416.33,506 416.83,516 417.33,522.67 417.83,507.67 418.33,493.5 418.83,502.67 419.33,509.33 419.83,499.33 420.33,488.5 420.83,496 421.33,504.33 421.83,486 422.33,479 422.83,494.33 423.33,502.67 423.83,484.33 424.33,494.33 424.83,499.33 425.33,492.67 425.83,497.67 426.33,477.67 426.83,461 427.17,454.67 427.67,477.67 428.17,497.67 428.67,503.5 429.17,497.67 429.67,502.67 430.17,499.33 430.67,514.33 431.17,506 431.67,496 432.17,502.67 432.67,494.33 433.17,486 433.67,494.33 434.17,480.17 434.67,486 435.17,469.33 435.67,453 436.17,477.67 436.67,486 437.17,498.5 437.67,477.67 438.17,461 438.67,447.67 439.17,469.33 439.67,494.33 440.17,508.5 440.67,502.67 441.17,494.33 441.67,509.33 442.17,502.67 442.67,494.33 443.17,504.33 443.67,489.33 444.17,486 444.67,501 445.17,485.67 445.67,499.33 446.17,491 446.67,502.67 447.17,506 447.67,479.67 448.17,486 448.67,468.5 449.17,476 449.67,456 450.17,450.5 450.67,469.33 451.17,481 451.67,484.33 452.17,481.83 452.67,484.33 453.17,494.33 453.67,512.33 454.17,499.33 454.67,486 455.17,492.67 455.67,499.33 456.17,502.67 456.67,507.67 457.17,494.33 457.67,482.67 458.17,486 458.67,472.67 459.17,465.5 459.67,477.67 460.17,486 460.67,494.33 461.17,492.67 461.67,511 462.17,522.67 462.67,511 463.17,496 463.67,507.67 464.17,494.33 464.67,486 465.17,481.83 465.67,494.33 466.17,507.67 466.67,514.33 467.17,499.33 467.67,512.67 468.17,506 468.67,494.33 469.17,486 469.67,500.17 470.17,485.17 470.67,494.33 471.17,506 471.67,502.67 472.17,504.33 472.67,494.33 473.17,486 473.67,482.67 474.17,497.67 474.67,486 475.17,481.33 475.67,494.33 476.17,511 476.67,525.17 476.67,525.17 477.17,507.67 477.67,514.33 478.17,507.67 478.67,514.33 479.17,511 479.67,516 480.17,522.67 480.67,502.67 481.17,495.17 481.67,517.67 482.17,509.33 482.67,499.33 483.17,494.33 483.67,486 484.17,476 484.67,469.33 485.17,461 485.67,456.83 486.17,477.67 486.67,494.33 487.17,511.83 487.67,499.33 488.17,486 488.67,489.33 489.17,477.67 489.67,469.33 490.17,462.33 490.67,477.67 491.17,494.33 491.67,486 492.17,496 492.67,477.67 493.17,467.67 493.67,482.67 494.17,494.33 494.67,467.33 495.17,486 495.67,473.5 496.17,486 496.67,499.33 497.17,502.67 497.67,503.5 498.17,504.33 498.67,507.67 499.17,509.33 499.67,519.33 500.17,516 500.67,502.67 501.17,491 501.67,487.67 502.17,482.67 502.67,471 503.17,476 503.67,461 504,450.67 504.5,469.33 505,466 505.5,482.67 506,466 506.5,476 507,461 507.5,449.33 508,443.5 508.5,461 509,477.67 509.5,491 510,499.33 510.5,507.67 511,509.33 511.5,516 512,521 512.5,525.17 513,521 513.5,516 514,506 514.5,497.67 515,501 515.5,496.83 516,502.67 516.5,492.67 517,480.67 517.5,494.33 518,502.67 518.5,492.67 519,484.33 519.5,494.33 520,499.33 520.5,491 521,482.67 521.5,478.83 522,486 522.5,491 523,496 523.5,502.67 524,511 524.5,522.67 525,516 525.5,502.67 526,496.83 526.5,519.33 527,527.33 527.5,511 528,494.33 528.5,480.17 529,472.67 529.5,464.33 530,459.67 530.5,469.33 531,477.67 531.5,486 532,499.33 532.5,494.33 533,486 533.5,494.33 534,511.83 534.5,502.67 535,486 535.5,469.33 536,463 536.5,469.33 537,477.67 537.5,494.33 538,507.67 538.5,514.33 539,516 539.5,523.5 540,519.33 540.5,514.33 541,511 541.5,506 542,499.33 542.5,489.33 543,477.67 543.5,464.67 544,486 544.5,502.67 545,513.5 545.5,504.33 546,513.5 546.5,503.5 547,511 547.5,518.5 548,504.33 548.5,509.33 549,499.33 549.5,495.17 550,502.67 550.5,507.67 551,518.5 551.5,501 552,509.33 552.5,517.67 553,502.67 553.5,495.17 554,502.67 554.5,511 555,523 555.5,511 556,499.33 556.5,492.67 557,496 557.5,490.67 558,495.17 558.33,492.67" stroke="#000" stroke-width="1.42" fill="none" stroke-linejoin="round" stroke-linecap="butt"/>
</g>
<rect x="337.8" y="439.53" width="230.57" height="91.82" fill="none" stroke="#444" stroke-width="0.85" stroke-linejoin="round"/>
<path d="M333.78 442.3H337.45M333.78 471.5H337.45M333.78 500.7H337.45M333.78 529.8H337.45M347.54 531.1V534.77M389.66 531.1V534.77M431.79 531.1V534.77M473.91 531.1V534.77M516.04 531.1V534.77M558.16 531.1V534.77" stroke="#333" stroke-width="1.42" fill="none"/>
<g font-size="12" letter-spacing="0.33" fill="#4d4d4d">
<text x="331.05" y="447.2" text-anchor="end">0.6</text>
<text x="331.05" y="476.4" text-anchor="end">0.4</text>
<text x="331.05" y="505.6" text-anchor="end">0.2</text>
<text x="331.05" y="534.7" text-anchor="end">0.0</text>
<text x="347.64" y="546.8" text-anchor="middle">0</text>
<text x="389.76" y="546.8" text-anchor="middle">100</text>
<text x="431.89" y="546.8" text-anchor="middle">200</text>
<text x="474.01" y="546.8" text-anchor="middle">300</text>
<text x="516.14" y="546.8" text-anchor="middle">400</text>
<text x="558.26" y="546.8" text-anchor="middle">500</text>
</g>
<g font-size="15.2" letter-spacing="-0.44" fill="#000">
<text x="453.06" y="564.6" text-anchor="middle">Iteration</text>
<text transform="translate(305.9 485.22) rotate(-90)" text-anchor="middle">b2</text>
</g>
</g>
</svg>
</body></html>
